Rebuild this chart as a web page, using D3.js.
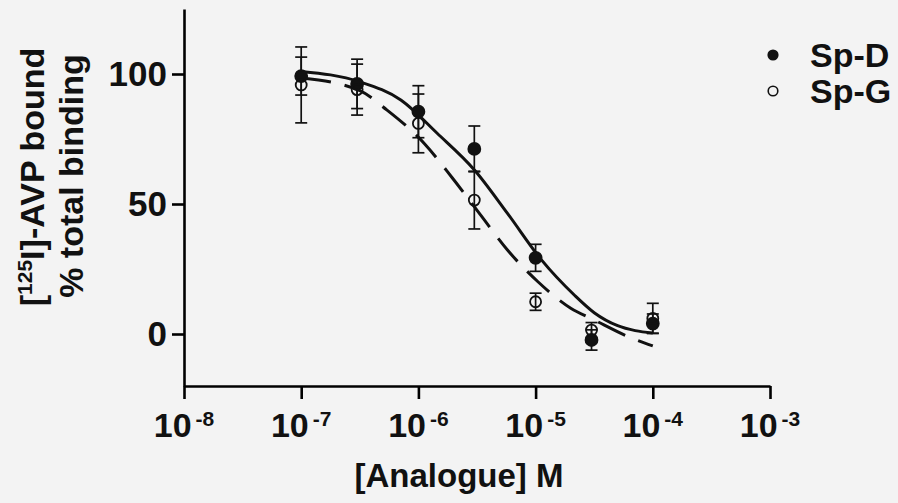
<!DOCTYPE html>
<html>
<head>
<meta charset="utf-8">
<script src="https://cdn.jsdelivr.net/npm/d3@7"></script>
<style>
  body { margin: 0; background: #f3f3f3; }
  svg { display: block; font-family: "Liberation Sans", Arial, sans-serif; font-weight: bold; }
</style>
</head>
<body>
<svg width="898" height="503"></svg>
<script>
// concentrations (M) for the measured points
var conc = [1e-7, 3e-7, 1e-6, 3e-6, 1e-5, 3e-5, 1e-4];

// Sp-D (filled circles) mean and error
var spdMean = [99.2, 96.2, 85.5, 71.2, 29.3, -2.3, 4.0];
var spdErr  = [7.3, 9.5, 10.0, 8.8, 5.2, 3.9, 3.7];

// Sp-G (open circles) mean and error
var spgMean = [95.8, 94.0, 81.0, 51.5, 12.4, 1.5, 6.0];
var spgErr  = [14.6, 9.8, 11.3, 11.1, 3.3, 2.9, 5.8];

// fitted curves (log10 M, % bound)
var spdCurveLogX = [-7.0, -6.5, -6.15, -5.84, -5.52, -5.24, -4.95, -4.67, -4.5, -4.3, -4.15, -4.0];
var spdCurveY    = [101, 97, 90, 77.2, 63, 46.4, 28.5, 15, 8.2, 3.2, 1.3, 0.4];
var spgCurveLogX = [-7.0, -6.5, -6.27, -5.95, -5.71, -5.47, -5.24, -4.98, -4.7, -4.5, -4.21, -4.0];
var spgCurveY    = [98.5, 93.6, 86.2, 73.3, 60, 45.8, 32.3, 20.1, 9.9, 5.4, -1, -4.6];

// axis ticks
var xTickExp = [-8, -7, -6, -5, -4, -3];
var yTicks = [0, 50, 100];

var svg = d3.select('svg');

var x = d3.scaleLog().domain([1e-8, 1e-3]).range([184, 770]);
var y = d3.scaleLinear().domain([-20, 125]).range([386, 9]);

// axes
var yAxis = d3.axisLeft(y).tickValues(yTicks).tickSize(12).tickPadding(5).tickSizeOuter(0);
var xAxis = d3.axisBottom(x).tickValues(xTickExp.map(function(e){ return Math.pow(10, e); }))
    .tickSize(13).tickFormat('').tickSizeOuter(0);

var yG = svg.append('g').attr('transform', 'translate(184,0)').call(yAxis);
yG.select('.domain').attr('stroke-width', 2.6);
yG.selectAll('.tick line').attr('stroke-width', 2.6);
yG.selectAll('.tick text').attr('font-size', 35).attr('font-family', null).attr('fill', '#111');

var xG = svg.append('g').attr('transform', 'translate(0,386)').call(xAxis);
xG.select('.domain').attr('stroke-width', 2.6);
xG.selectAll('.tick line').attr('stroke-width', 2.6);

// x tick labels as 10 with superscript exponent
var xl = svg.append('g').selectAll('text')
    .data(xTickExp)
    .enter().append('text')
    .attr('x', function(d){ return x(Math.pow(10, d)); })
    .attr('y', 437)
    .attr('text-anchor', 'middle')
    .attr('font-size', 34)
    .attr('fill', '#111');
xl.append('tspan').text('10');
xl.append('tspan').attr('font-size', 21).attr('dx', 4).attr('dy', -11).text(function(d){ return d; });

// axis titles
svg.append('text')
    .attr('text-anchor', 'middle')
    .attr('font-size', 33)
    .attr('x', 459).attr('y', 487)
    .attr('fill', '#111')
    .text('[Analogue] M');

var t1 = svg.append('text')
    .attr('text-anchor', 'middle')
    .attr('font-size', 34)
    .attr('fill', '#111')
    .attr('transform', 'translate(44,177) rotate(-90)');
t1.append('tspan').text('[');
t1.append('tspan').attr('font-size', 21).attr('dy', -12).text('125');
t1.append('tspan').attr('dy', 12).text('I]-AVP bound');

svg.append('text')
    .attr('text-anchor', 'middle')
    .attr('font-size', 34)
    .attr('fill', '#111')
    .attr('transform', 'translate(83,176) rotate(-90)')
    .text('% total binding');

// fitted curves
var line = d3.line()
    .x(function(d){ return x(Math.pow(10, d[0])); })
    .y(function(d){ return y(d[1]); })
    .curve(d3.curveMonotoneX);

svg.append('path')
    .datum(d3.zip(spdCurveLogX, spdCurveY))
    .attr('d', line)
    .attr('fill', 'none').attr('stroke', '#111').attr('stroke-width', 3);

svg.append('path')
    .datum(d3.zip(spgCurveLogX, spgCurveY))
    .attr('d', line)
    .attr('fill', 'none').attr('stroke', '#111').attr('stroke-width', 3)
    .attr('stroke-dasharray', '30,14');

// error bars + markers
var series = [
    {mean: spdMean, err: spdErr, fill: '#111', r: 6},
    {mean: spgMean, err: spgErr, fill: 'none', r: 5.5}
];
var capW = 6;

series.forEach(function(s) {
    var pts = conc.map(function(c, i){ return {c: c, m: s.mean[i], e: s.err[i]}; });
    var eb = svg.append('g').attr('stroke', '#111').attr('stroke-width', 1.7);
    eb.selectAll('.v').data(pts).enter().append('line')
        .attr('x1', function(d){ return x(d.c); }).attr('x2', function(d){ return x(d.c); })
        .attr('y1', function(d){ return y(d.m - d.e); }).attr('y2', function(d){ return y(d.m + d.e); });
    eb.selectAll('.t').data(pts).enter().append('line')
        .attr('x1', function(d){ return x(d.c) - capW; }).attr('x2', function(d){ return x(d.c) + capW; })
        .attr('y1', function(d){ return y(d.m + d.e); }).attr('y2', function(d){ return y(d.m + d.e); });
    eb.selectAll('.b').data(pts).enter().append('line')
        .attr('x1', function(d){ return x(d.c) - capW; }).attr('x2', function(d){ return x(d.c) + capW; })
        .attr('y1', function(d){ return y(d.m - d.e); }).attr('y2', function(d){ return y(d.m - d.e); });
});

series.forEach(function(s) {
    svg.append('g').selectAll('circle')
        .data(conc.map(function(c, i){ return {c: c, m: s.mean[i]}; }))
        .enter().append('circle')
        .attr('cx', function(d){ return x(d.c); })
        .attr('cy', function(d){ return y(d.m); })
        .attr('r', s.r)
        .attr('fill', s.fill)
        .attr('stroke', '#111')
        .attr('stroke-width', 1.8);
});

// legend
var legendNames = ['Sp-D', 'Sp-G'];
var lg = svg.append('g').selectAll('g')
    .data(legendNames)
    .enter().append('g')
    .attr('transform', function(d, i){ return 'translate(773,' + (55 + i * 36) + ')'; });
lg.append('circle')
    .attr('r', 4.8)
    .attr('fill', function(d, i){ return series[i].fill; })
    .attr('stroke', '#111').attr('stroke-width', 1.6);
lg.append('text')
    .attr('x', 37).attr('y', 12)
    .attr('font-size', 34)
    .attr('fill', '#111')
    .text(function(d){ return d; });
</script>
</body>
</html>
